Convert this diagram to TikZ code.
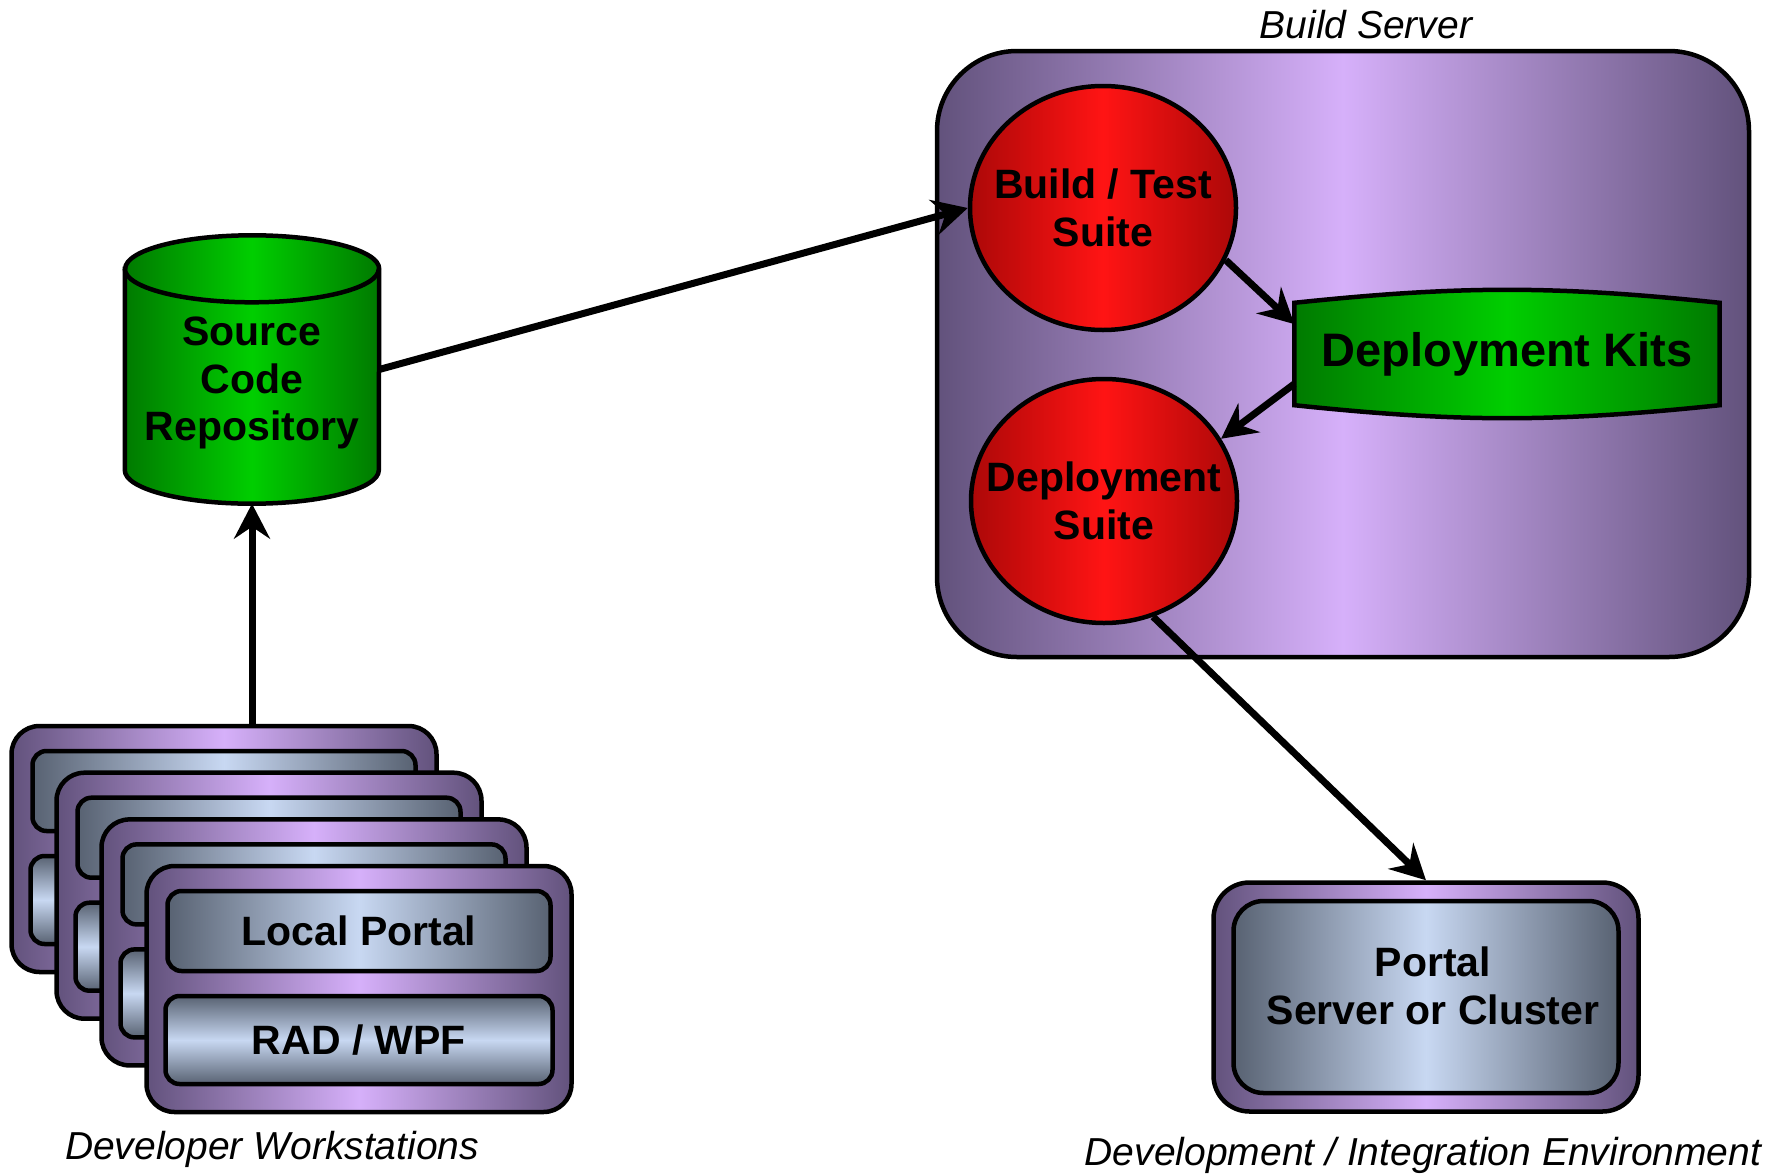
\documentclass[tikz,border=0pt]{standalone}
\usepackage{fontspec}
\setmainfont{Liberation Sans}
\usetikzlibrary{shapes.geometric,arrows.meta}

\definecolor{purpdark}{RGB}{98,82,124}
\definecolor{purplight}{RGB}{214,176,250}
\definecolor{slatedark}{RGB}{88,98,114}
\definecolor{slatelight}{RGB}{200,216,242}
\definecolor{reddark}{RGB}{172,8,8}
\definecolor{redlight}{RGB}{255,20,20}
\definecolor{greendark}{RGB}{0,122,0}
\definecolor{greenlight}{RGB}{0,206,0}

\newcommand{\boldtext}{\fontsize{41}{47.5}\selectfont\bfseries}

\tikzstyle{casing} = [rectangle, draw, line width=4.5pt, left color=purpdark,
    right color=purpdark, middle color=purplight]
\tikzstyle{station} = [casing, rounded corners=28pt, minimum width=425pt, minimum height=246pt]
\tikzstyle{panel} = [rectangle, draw, line width=4.5pt, rounded corners=14pt, align=center,
    font=\boldtext, left color=slatedark, right color=slatedark, middle color=slatelight]
\tikzstyle{tool} = [rectangle, draw, line width=4.5pt, rounded corners=14pt, align=center,
    font=\boldtext, top color=slatedark, bottom color=slatedark, middle color=slatelight]
\tikzstyle{suite} = [ellipse, draw, line width=4.5pt, inner ysep=0pt, inner xsep=-30pt, align=center,
    font=\boldtext, minimum width=266pt, minimum height=244pt, left color=reddark, right color=reddark,
    middle color=redlight]
\tikzstyle{store} = [draw, line width=4.5pt, left color=greendark, right color=greendark, middle color=greenlight]
\tikzstyle{caption} = [font=\fontsize{39}{45}\selectfont\itshape]
\tikzstyle{line} = [draw, line width=7pt, -{Stealth[length=35pt, width=36pt, inset=12pt]}]

\begin{document}
\begin{tikzpicture}[x=1pt, y=-1pt, node distance=2cm, auto]
    \useasboundingbox (0,0) rectangle (1775,1175);

    % Build server
    \node [casing, rounded corners=80pt, minimum width=812pt, minimum height=606pt] (server) at (1343,354) {};
    \node [caption] (serverlabel) at (1366,25) {Build Server};
    \node [suite] (bts) at (1103,208) {Build / Test\\Suite};
    \node [suite] (dsuite) at (1104,501) {Deployment\\Suite};
    \node [minimum width=425pt, minimum height=102pt, inner sep=0pt] (kits) at (1507,354) {};
    \path [store] (kits.south west) -- (kits.north west) to[bend left=6] (kits.north east)
        -- (kits.south east) to[bend left=6] (kits.south west) -- cycle;
    \node [font=\fontsize{47}{54}\selectfont\bfseries] (kitstext) at (kits) {Deployment Kits};

    % Repository
    \node [minimum width=254pt, minimum height=268pt, inner sep=0pt] (src) at (252,369.5) {};
    \path [store] ([yshift=-33.5pt]src.north west) -- ([yshift=33.5pt]src.south west)
        arc[start angle=180, end angle=360, x radius=127pt, y radius=33.5pt]
        -- ([yshift=-33.5pt]src.north east)
        arc[start angle=0, end angle=180, x radius=127pt, y radius=33.5pt] -- cycle;
    \draw [line width=4.5pt] ([yshift=-33.5pt]src.north west)
        arc[start angle=180, end angle=360, x radius=127pt, y radius=33.5pt];
    \node [font=\boldtext, align=center] (srctext) at (252,383) {Source\\Code\\Repository};

    % Workstations
    \foreach \i in {0,1,2} {
        \node [station] (ws\i) at (224+45*\i,849+46.7*\i) {};
        \node [panel, minimum width=383pt, minimum height=80pt] (lp\i) at ([yshift=58pt]ws\i) {};
        \node [tool, minimum width=387pt, minimum height=88pt] (rad\i) at ([yshift=-51pt]ws\i) {};
    }
    \node [station] (ws3) at (359,989) {};
    \node [panel, minimum width=383pt, minimum height=80pt] (lp3) at ([yshift=58pt]ws3) {Local Portal};
    \node [tool, minimum width=387pt, minimum height=88pt] (rad3) at ([yshift=-51pt]ws3) {RAD / WPF};
    \node [caption] (wslabel) at (272,1149) {Developer Workstations};

    % Portal server
    \node [casing, rounded corners=36pt, minimum width=425pt, minimum height=229pt] (portal) at (1426,997) {};
    \node [panel, rounded corners=30pt, minimum width=385pt, minimum height=192pt] (portalbox) at (portal) {};
    \node [font=\boldtext, align=center] (portaltext) at (1433,986) {Portal\\Server or Cluster};
    \node [caption] (envlabel) at (1423,1155) {Development / Integration Environment};

    % Draw edges
    \path [line] (src.east) -- (bts.west);
    \path [line] (ws0.north -| src.south) -- (src.south);
    \path [line] (bts.-23) -- (kits.172);
    \path [line] (kits.188) -- (dsuite.28);
    \path [line] (dsuite.-67) -- (portal.north);

\end{tikzpicture}
\end{document}
